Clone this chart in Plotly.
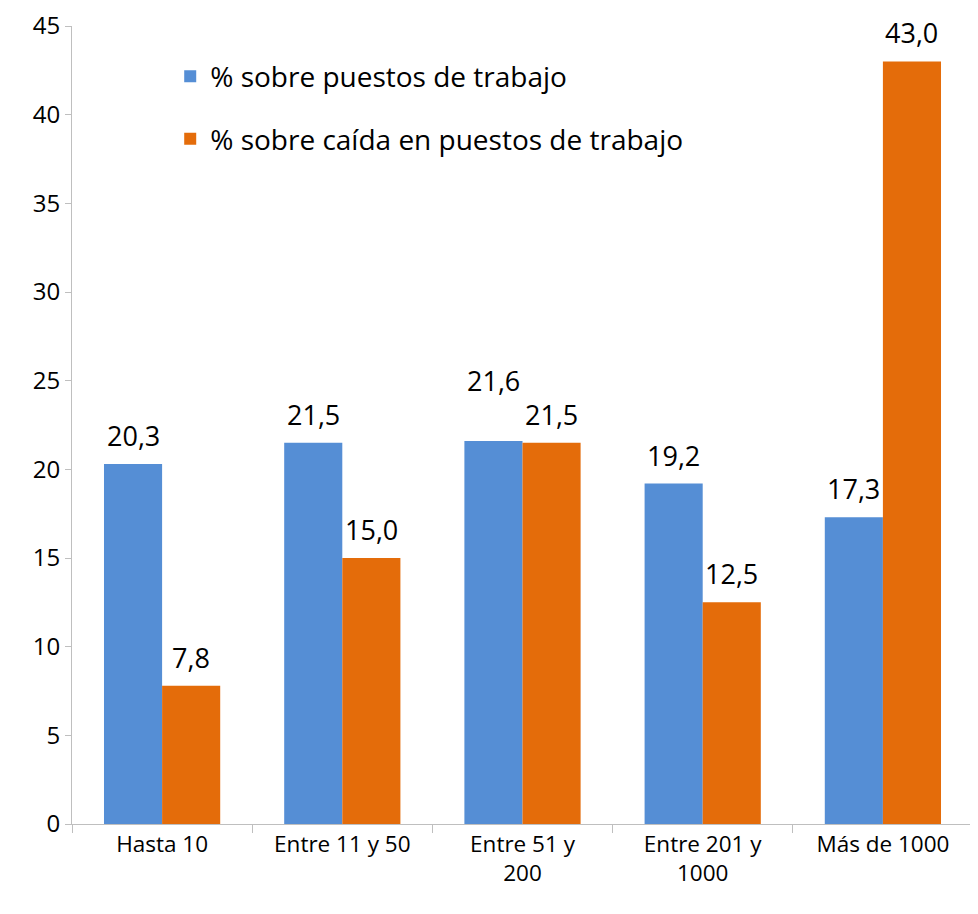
import plotly.graph_objects as go

categories = ["Hasta 10", "Entre 11 y 50", "Entre 51 y<br>200", "Entre 201 y<br>1000", "Más de 1000"]
puestos = [20.3, 21.5, 21.6, 19.2, 17.3]
caida = [7.8, 15.0, 21.5, 12.5, 43.0]
series_names = ["% sobre puestos de trabajo", "% sobre caída en puestos de trabajo"]
y_ticks = [0, 5, 10, 15, 20, 25, 30, 35, 40, 45]

BLUE = "#558ED5"
ORANGE = "#E46C0A"
FONT = "Open Sans"

fig = go.Figure()
fig.add_trace(go.Bar(x=categories, y=puestos, name=series_names[0], marker_color=BLUE,
                     marker_line_width=0, legendgroup="a"))
fig.add_trace(go.Bar(x=categories, y=caida, name=series_names[1], marker_color=ORANGE,
                     marker_line_width=0, legendgroup="b"))

def fmt(v):
    return f"{v:.1f}".replace(".", ",")

annotations = []
for i, c in enumerate(categories):
    # extra lift for overlapping label (as in the reference)
    extra_a = 32 if abs(puestos[i] - caida[i]) < 0.5 else 0
    annotations.append(dict(x=c, y=puestos[i], text=fmt(puestos[i]), xshift=-29,
                            yshift=8 + extra_a, yanchor="bottom", showarrow=False,
                            font=dict(size=27, color="#000000", family=FONT)))
    annotations.append(dict(x=c, y=caida[i], text=fmt(caida[i]), xshift=29,
                            yshift=8, yanchor="bottom", showarrow=False,
                            font=dict(size=27, color="#000000", family=FONT)))

fig.update_layout(
    width=970, height=906,
    margin=dict(l=64, r=5, t=18, b=90),
    paper_bgcolor="white", plot_bgcolor="white",
    barmode="group", bargap=0.355, bargroupgap=0,
    font=dict(family=FONT, size=22, color="#000000"),
    showlegend=True,
    legend=dict(x=0.109, y=0.968, xanchor="left", yanchor="top",
                bgcolor="rgba(0,0,0,0)", font=dict(size=28, family=FONT),
                tracegroupgap=23, itemwidth=30),
    annotations=annotations,
)
fig.update_yaxes(range=[0, 45], tickvals=y_ticks, showgrid=False, zeroline=False,
                 showline=True, linecolor="#BFBFBF", linewidth=1, automargin=False,
                 ticks="outside", ticklen=6, tickcolor="#BFBFBF",
                 ticklabeloverflow="allow",
                 tickfont=dict(size=24, family=FONT, color="#000000"))
fig.update_xaxes(showgrid=False, showline=True, linecolor="#BFBFBF", linewidth=1,
                 automargin=False,
                 ticks="outside", tickson="boundaries", ticklen=8, tickcolor="#BFBFBF",
                 tickfont=dict(size=22.5, family=FONT, color="#000000"), tickangle=0)

fig.write_html("out.html")
